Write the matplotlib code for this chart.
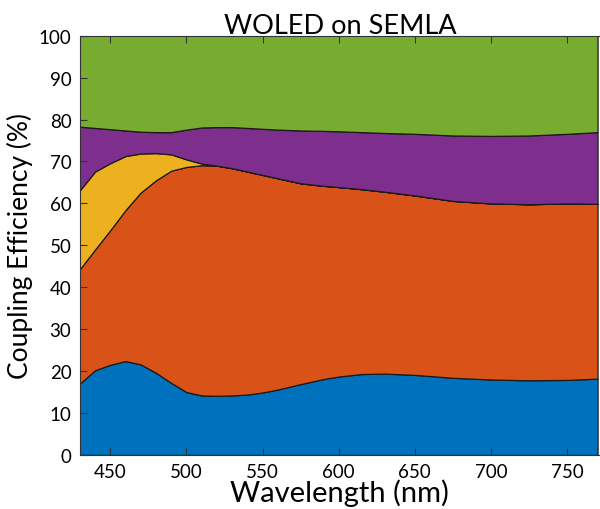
import numpy as np
import matplotlib.pyplot as plt

plt.rcParams['font.family'] = ['Lato', 'DejaVu Sans']

# wavelength grid (nm)
wavelength = [430, 440, 450, 460, 470, 480, 490, 500, 510, 520, 530, 540, 550,
              560, 575, 590, 600, 615, 630, 650, 675, 700, 725, 750, 770]

# upper boundary of each stacked region (cumulative %)
top_blue = [17.0, 20.2, 21.5, 22.4, 21.6, 19.6, 17.2, 15.0, 14.2, 14.1, 14.2, 14.4, 14.9,
            15.6, 16.9, 18.1, 18.7, 19.3, 19.4, 19.1, 18.4, 18.0, 17.8, 17.9, 18.2]
top_orange = [44.3, 49.0, 53.6, 58.4, 62.6, 65.5, 67.8, 68.7, 69.1, 69.0, 68.4, 67.6, 66.8,
              66.0, 64.8, 64.2, 63.9, 63.4, 62.8, 61.9, 60.6, 60.0, 59.8, 60.0, 59.9]
top_yellow = [63.1, 67.6, 69.6, 71.3, 71.9, 72.0, 71.7, 70.5, 69.5, 69.0, 68.4, 67.6, 66.8,
              66.0, 64.8, 64.2, 63.9, 63.4, 62.8, 61.9, 60.6, 60.0, 59.8, 60.0, 59.9]
top_purple = [78.3, 78.0, 77.7, 77.4, 77.1, 77.0, 77.0, 77.6, 78.1, 78.2, 78.2, 78.0, 77.8,
              77.6, 77.4, 77.3, 77.2, 77.0, 76.8, 76.6, 76.2, 76.1, 76.2, 76.6, 77.0]
top_green = [100.0] * len(wavelength)

colors = ['#0072BD', '#D95319', '#EDB120', '#7E2F8E', '#77AC30']

x = np.array(wavelength)
tops = [np.array(t) for t in (top_blue, top_orange, top_yellow, top_purple, top_green)]
layers = [tops[0]] + [tops[i] - tops[i - 1] for i in range(1, len(tops))]

fig = plt.figure(figsize=(6, 5.1), dpi=100)
ax = fig.add_axes([0.133, 0.106, 0.867, 0.822])

ax.stackplot(x, *layers, colors=colors, edgecolor='#1a1a1a', linewidth=0.9)

ax.set_xlim(430, 771.6)
ax.set_ylim(0, 100)
ax.set_xticks([450, 500, 550, 600, 650, 700, 750])
ax.set_yticks(range(0, 101, 10))
ax.tick_params(direction='in', top=True, right=False, labelsize=13.5, length=5,
               color='#333333', pad=6)
for s in ax.spines.values():
    s.set_color('#333333')
ax.spines['right'].set_visible(False)

ax.set_title('WOLED on SEMLA', fontsize=19.5, pad=2)
ax.set_xlabel('Wavelength (nm)', fontsize=21, labelpad=-1)
ax.set_ylabel('Coupling Efficiency (%)', fontsize=19, labelpad=4)

fig.savefig('out.png', dpi=100)
